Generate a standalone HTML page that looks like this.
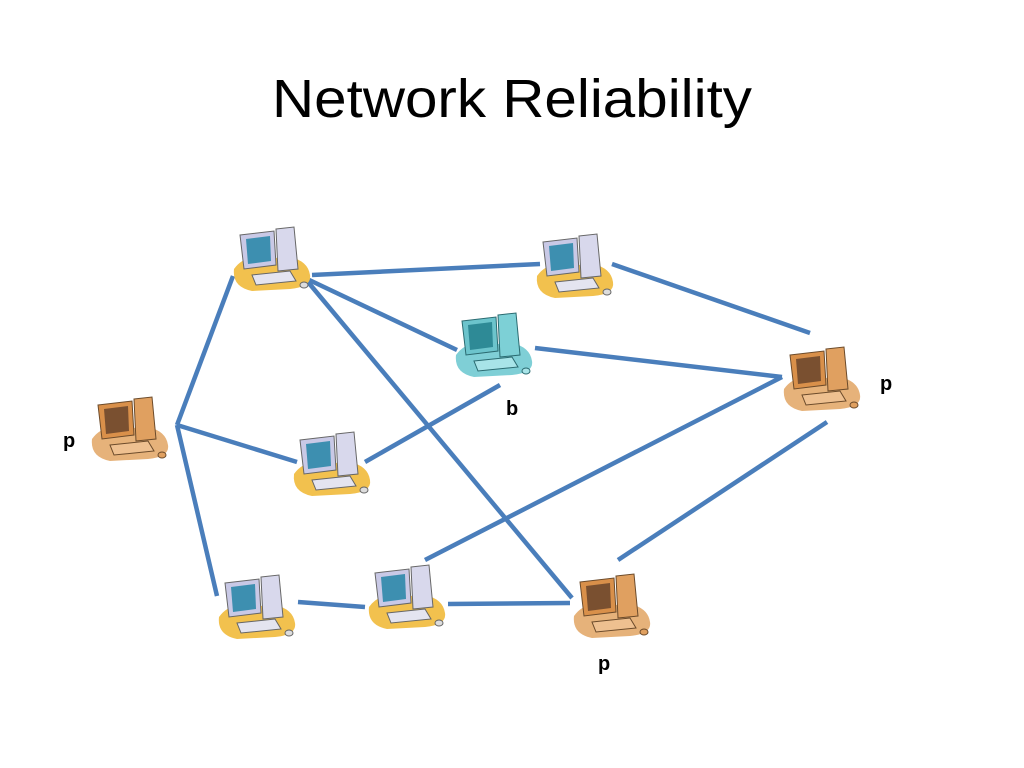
<!DOCTYPE html>
<html><head><meta charset="utf-8"><style>
html,body{margin:0;padding:0;background:#fff;width:1024px;height:768px;overflow:hidden}
svg{display:block}
</style></head><body>
<svg width="1024" height="768" viewBox="0 0 1024 768" xmlns="http://www.w3.org/2000/svg">
<defs>
<symbol id="cw" viewBox="0 0 84 68">
<path d="M4 44 Q14 30 30 34 L60 32 Q78 36 80 50 Q82 62 60 64 L22 66 Q2 62 4 44Z" fill="#f2c14e"/>
<path d="M10 10 L44 6 L46 40 L14 44Z" fill="#c9c9e6" stroke="#666" stroke-width="1"/>
<path d="M16 14 L40 11 L41 36 L18 39Z" fill="#3d8fb0"/>
<path d="M46 4 L64 2 L68 44 L48 46Z" fill="#d8d8ec" stroke="#666" stroke-width="1"/>
<path d="M22 50 L60 46 L66 56 L26 60Z" fill="#e4e4f0" stroke="#666" stroke-width="1"/>
<ellipse cx="74" cy="60" rx="4" ry="3" fill="#ddd" stroke="#666"/>
</symbol>
<symbol id="co" viewBox="0 0 84 68">
<path d="M4 44 Q14 30 30 34 L60 32 Q78 36 80 50 Q82 62 60 64 L22 66 Q2 62 4 44Z" fill="#e6b27a"/>
<path d="M10 10 L44 6 L46 40 L14 44Z" fill="#d9904a" stroke="#6b4a2a" stroke-width="1"/>
<path d="M16 14 L40 11 L41 36 L18 39Z" fill="#7a5030"/>
<path d="M46 4 L64 2 L68 44 L48 46Z" fill="#e0a060" stroke="#6b4a2a" stroke-width="1"/>
<path d="M22 50 L60 46 L66 56 L26 60Z" fill="#eec090" stroke="#6b4a2a" stroke-width="1"/>
<ellipse cx="74" cy="60" rx="4" ry="3" fill="#e0a060" stroke="#6b4a2a"/>
</symbol>
<symbol id="cc" viewBox="0 0 84 68">
<path d="M4 44 Q14 30 30 34 L60 32 Q78 36 80 50 Q82 62 60 64 L22 66 Q2 62 4 44Z" fill="#7fcfd6"/>
<path d="M10 10 L44 6 L46 40 L14 44Z" fill="#6cc4cc" stroke="#2a6a70" stroke-width="1"/>
<path d="M16 14 L40 11 L41 36 L18 39Z" fill="#2e8a96"/>
<path d="M46 4 L64 2 L68 44 L48 46Z" fill="#7dd0d6" stroke="#2a6a70" stroke-width="1"/>
<path d="M22 50 L60 46 L66 56 L26 60Z" fill="#a8e4e8" stroke="#2a6a70" stroke-width="1"/>
<ellipse cx="74" cy="60" rx="4" ry="3" fill="#a8e4e8" stroke="#2a6a70"/>
</symbol>
</defs>
<text x="272" y="117" textLength="480" lengthAdjust="spacingAndGlyphs" font-family="Liberation Sans, sans-serif" font-size="54" fill="#000">Network Reliability</text>
<g stroke="#4a7ebb" stroke-width="4.5" fill="none" stroke-linecap="butt">
<line x1="312" y1="275" x2="540" y2="264"/>
<line x1="612" y1="264" x2="810" y2="333"/>
<line x1="305" y1="278" x2="457" y2="350"/>
<line x1="308" y1="282" x2="572" y2="598"/>
<line x1="233" y1="276" x2="177" y2="425"/>
<line x1="177" y1="425" x2="297" y2="462"/>
<line x1="177" y1="425" x2="217" y2="596"/>
<line x1="535" y1="348" x2="782" y2="377"/>
<line x1="782" y1="377" x2="425" y2="560"/>
<line x1="365" y1="462" x2="500" y2="385"/>
<line x1="827" y1="422" x2="618" y2="560"/>
<line x1="298" y1="602" x2="365" y2="607"/>
<line x1="448" y1="604" x2="570" y2="603"/>
</g>
<use href="#cw" x="230" y="225" width="84" height="68"/>
<use href="#cw" x="533" y="232" width="84" height="68"/>
<use href="#cc" x="452" y="311" width="84" height="68"/>
<use href="#co" x="780" y="345" width="84" height="68"/>
<use href="#co" x="88" y="395" width="84" height="68"/>
<use href="#cw" x="290" y="430" width="84" height="68"/>
<use href="#cw" x="215" y="573" width="84" height="68"/>
<use href="#cw" x="365" y="563" width="84" height="68"/>
<use href="#co" x="570" y="572" width="84" height="68"/>
<g font-family="Liberation Sans, sans-serif" font-weight="bold" font-size="20" fill="#000">
<text x="63" y="447">p</text>
<text x="506" y="415">b</text>
<text x="880" y="390">p</text>
<text x="598" y="670">p</text>
</g>
</svg>
</body></html>
